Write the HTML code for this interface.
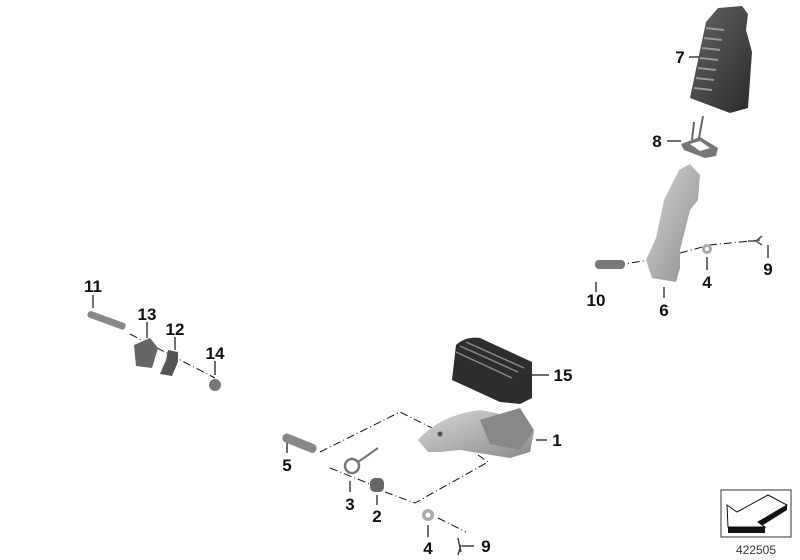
<!DOCTYPE html>
<html><head><meta charset="utf-8"><style>
html,body{margin:0;padding:0;background:#fff;}
svg{display:block}
text{font-family:"Liberation Sans",sans-serif;font-weight:bold;font-size:17px;fill:#111;}
</style></head><body>
<svg width="800" height="560" viewBox="0 0 800 560" xmlns="http://www.w3.org/2000/svg">
<defs>
<linearGradient id="dk" x1="0" y1="0" x2="1" y2="1"><stop offset="0" stop-color="#666"/><stop offset="1" stop-color="#2a2a2a"/></linearGradient>
<linearGradient id="lt" x1="0" y1="0" x2="1" y2="1"><stop offset="0" stop-color="#d8d8d8"/><stop offset="1" stop-color="#8a8a8a"/></linearGradient>
</defs>
<g stroke="#111" stroke-width="1.2" fill="none">
<line x1="689" y1="57" x2="700" y2="57"/>
<line x1="667" y1="141" x2="681" y2="141"/>
<line x1="596" y1="282" x2="596" y2="292"/>
<line x1="664" y1="287" x2="664" y2="298"/>
<line x1="707" y1="257" x2="707" y2="270"/>
<line x1="768" y1="245" x2="768" y2="258"/>
<line x1="93" y1="295" x2="93" y2="308"/>
<line x1="147" y1="322" x2="147" y2="338"/>
<line x1="175" y1="337" x2="175" y2="350"/>
<line x1="215" y1="361" x2="215" y2="375"/>
<line x1="532" y1="375" x2="549" y2="375"/>
<line x1="536" y1="440" x2="547" y2="440"/>
<line x1="287" y1="442" x2="287" y2="453"/>
<line x1="350" y1="481" x2="350" y2="492"/>
<line x1="377" y1="495" x2="377" y2="505"/>
<line x1="428" y1="525" x2="428" y2="537"/>
<line x1="462" y1="546" x2="474" y2="546"/>
</g>
<g stroke="#111" stroke-width="1" fill="none" stroke-dasharray="8,3,1,3">
<polyline points="320,452 400,412 440,432"/>
<polyline points="330,468 370,484"/>
<polyline points="385,492 415,503 488,462 478,455"/>
<polyline points="438,518 466,532"/>
<polyline points="617,265 650,260"/>
<polyline points="680,253 710,245 760,240"/>
<polyline points="130,334 215,378"/>
</g>
<path d="M718 8 L742 6 L748 14 L746 30 L752 52 L748 108 L730 113 L690 98 L706 22 Z" fill="url(#dk)"/>
<g stroke="#999" stroke-width="2"><line x1="706" y1="28" x2="724" y2="30"/><line x1="704" y1="38" x2="722" y2="40"/><line x1="702" y1="48" x2="720" y2="50"/><line x1="700" y1="58" x2="718" y2="60"/><line x1="698" y1="68" x2="716" y2="70"/><line x1="696" y1="78" x2="714" y2="80"/><line x1="694" y1="88" x2="712" y2="90"/></g>
<path d="M681 144 L700 137 L718 148 L716 156 L705 158 L684 150 Z" fill="#777"/><path d="M690 144 L700 141 L710 148 L700 151 Z" fill="#fff"/>
<line x1="692" y1="140" x2="694" y2="122" stroke="#666" stroke-width="2"/><line x1="699" y1="138" x2="703" y2="116" stroke="#666" stroke-width="2"/>
<path d="M679 170 L690 164 L700 175 L698 200 L690 210 L680 250 L680 268 L676 282 L652 278 L646 260 L656 238 L664 200 Z" fill="url(#lt)"/>
<rect x="595" y="260" width="30" height="9" rx="4" fill="#777"/>
<circle cx="707" cy="249" r="5" fill="#aaa"/><circle cx="707" cy="249" r="2" fill="#fff"/>
<rect x="88" y="310" width="40" height="7" rx="3" transform="rotate(20 88 313)" fill="#888"/>
<path d="M134 345 L150 338 L158 348 L152 368 L136 366 Z" fill="#666"/>
<path d="M168 350 L178 352 L178 362 L172 376 L160 374 L166 360 Z" fill="#555"/>
<circle cx="215" cy="385" r="6" fill="#777"/>
<path d="M456 345 Q466 336 480 338 L532 362 L532 398 L520 404 L500 402 L452 380 Z" fill="#2e2e2e"/>
<g stroke="#888" stroke-width="1.5"><line x1="460" y1="346" x2="518" y2="372"/><line x1="466" y1="342" x2="524" y2="368"/><line x1="456" y1="352" x2="512" y2="378"/></g>
<path d="M418 440 Q440 415 480 410 L520 418 L534 432 L530 452 L510 458 L460 450 L440 452 L428 452 Z" fill="url(#lt)"/>
<path d="M480 420 L520 408 L534 430 L520 450 L490 444 Z" fill="#888"/>
<circle cx="440" cy="434" r="2.5" fill="#555"/>
<rect x="283" y="432" width="36" height="9" rx="4" transform="rotate(22 283 436)" fill="#888"/>
<circle cx="352" cy="466" r="7" fill="none" stroke="#777" stroke-width="2.5"/><line x1="358" y1="462" x2="378" y2="448" stroke="#777" stroke-width="2"/>
<rect x="370" y="478" width="14" height="14" rx="5" fill="#666"/>
<circle cx="428" cy="515" r="6" fill="#aaa"/><circle cx="428" cy="515" r="2.5" fill="#fff"/>
<path d="M458 538 L461 552 M461 545 L458 555" stroke="#444" stroke-width="1.5"/>
<path d="M748 241 L756 241 M756 241 L762 236 M756 241 L762 245" stroke="#555" stroke-width="1.5" fill="none"/>
<text x="680" y="63" text-anchor="middle">7</text>
<text x="657" y="147" text-anchor="middle">8</text>
<text x="596" y="306" text-anchor="middle">10</text>
<text x="664" y="316" text-anchor="middle">6</text>
<text x="707" y="288" text-anchor="middle">4</text>
<text x="768" y="275" text-anchor="middle">9</text>
<text x="93" y="292" text-anchor="middle">11</text>
<text x="147" y="320" text-anchor="middle">13</text>
<text x="175" y="335" text-anchor="middle">12</text>
<text x="215" y="359" text-anchor="middle">14</text>
<text x="563" y="381" text-anchor="middle">15</text>
<text x="557" y="446" text-anchor="middle">1</text>
<text x="287" y="471" text-anchor="middle">5</text>
<text x="350" y="510" text-anchor="middle">3</text>
<text x="377" y="522" text-anchor="middle">2</text>
<text x="428" y="554" text-anchor="middle">4</text>
<text x="486" y="552" text-anchor="middle">9</text>
<rect x="721" y="490" width="70" height="47" fill="#fff" stroke="#333" stroke-width="1"/>
<path d="M758 522 L787 505 L787 510 L763 525 Z" fill="#111"/>
<rect x="728" y="527" width="37" height="6" fill="#111"/>
<path d="M727 505 L737 512 L768 495 L787 505 L758 522 L765 527 L728 527 Z" fill="#fff" stroke="#111" stroke-width="1"/>
<text x="756" y="554" text-anchor="middle" style="font-weight:normal;font-size:12px;fill:#333">422505</text>
</svg>
</body></html>
